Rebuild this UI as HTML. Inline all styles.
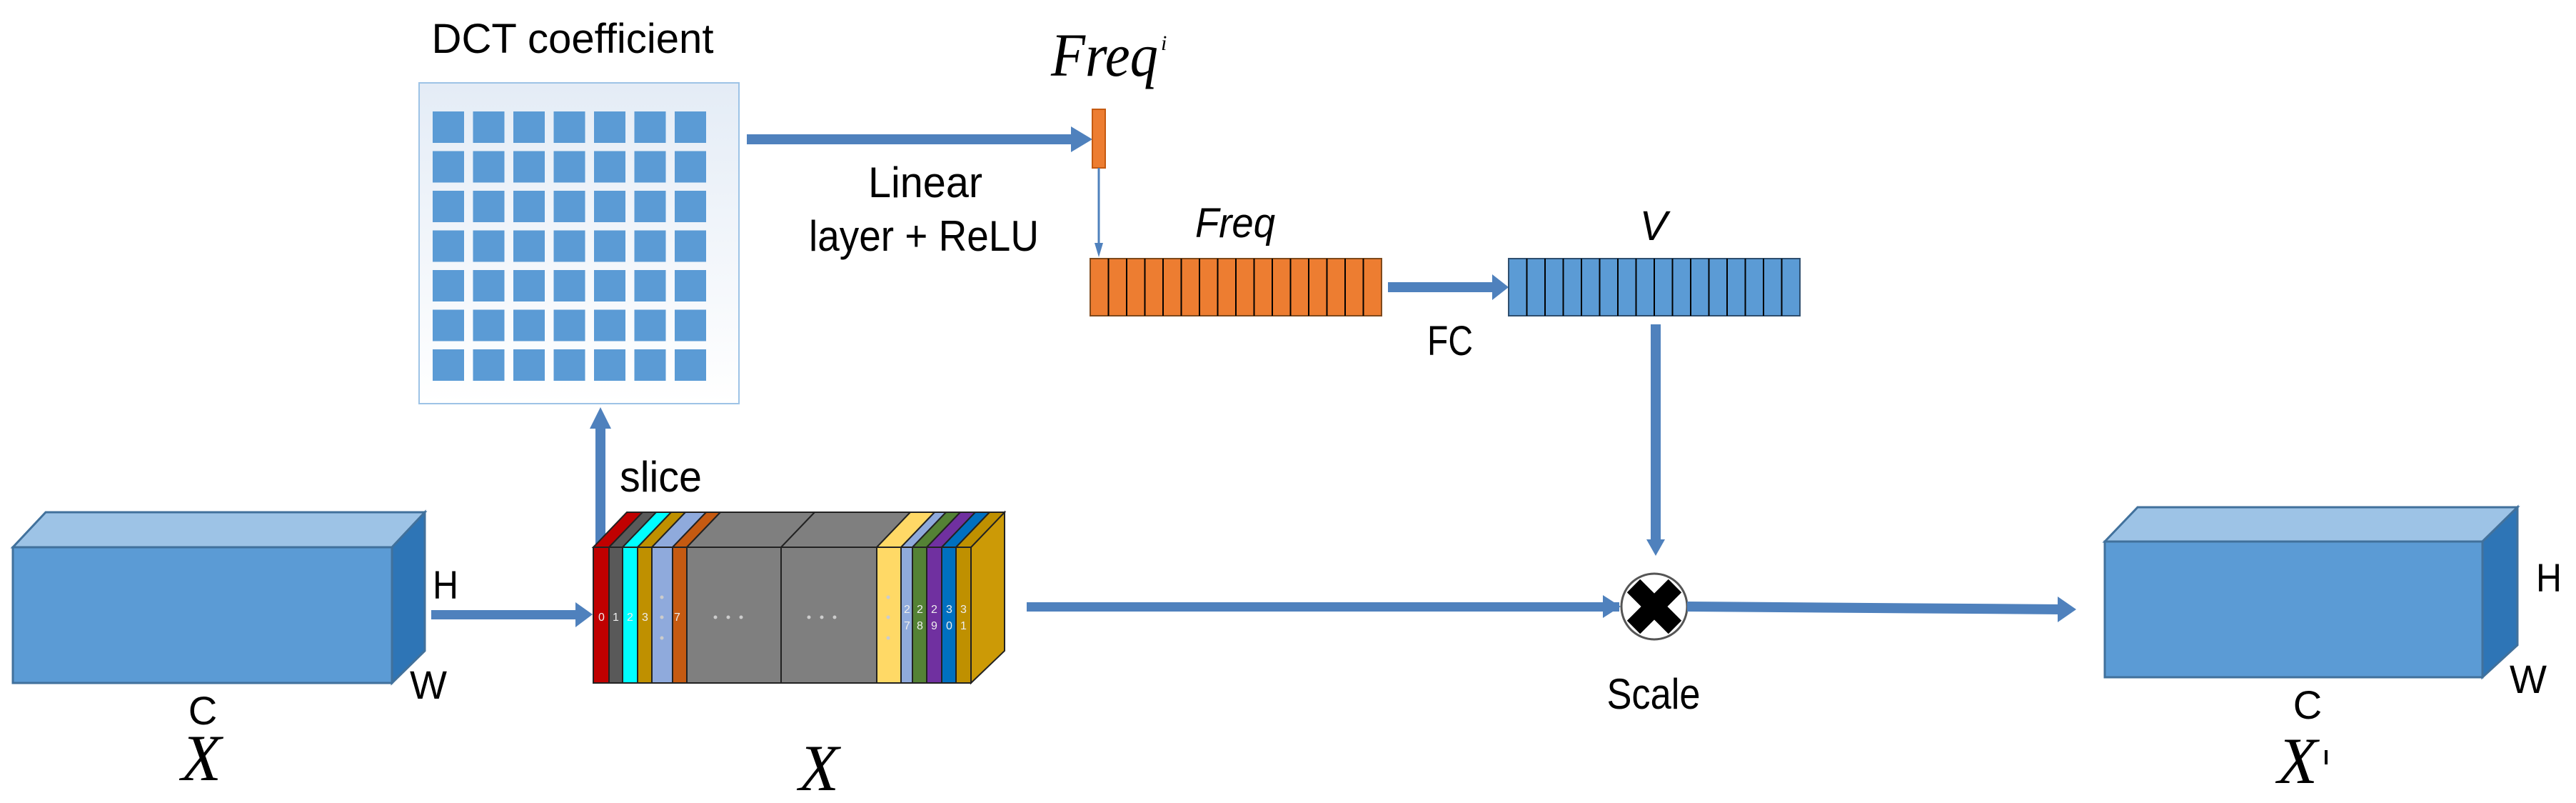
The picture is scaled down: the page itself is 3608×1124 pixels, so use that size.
<!DOCTYPE html>
<html><head><meta charset="utf-8"><style>html,body{margin:0;padding:0;background:#fff}svg{display:block}</style></head>
<body>
<svg width="3608" height="1124" viewBox="0 0 3608 1124" xmlns="http://www.w3.org/2000/svg">
<defs>
<linearGradient id="pg" x1="0" y1="0" x2="0" y2="1"><stop offset="0" stop-color="#e4ecf6"/><stop offset="1" stop-color="#ffffff"/></linearGradient>
</defs>
<g font-family="'Liberation Sans', sans-serif" fill="#000">
<text x="802" y="74" font-size="58" text-anchor="middle" textLength="395" lengthAdjust="spacingAndGlyphs">DCT coefficient</text>
<rect x="587" y="116" width="448" height="449" fill="url(#pg)" stroke="#9dc3e6" stroke-width="2"/>
<g id="grid" fill="#5b9bd5"></g>
<rect x="1046" y="188" width="460" height="14" fill="#4f81bd"/>
<polygon points="1500,177 1530,195 1500,213" fill="#4f81bd"/>
<rect x="1530" y="153" width="18" height="82" fill="#ed7d31" stroke="#c55a11" stroke-width="2"/>
<text x="1472" y="106" font-family="'Liberation Serif', serif" font-style="italic" font-size="86" textLength="150" lengthAdjust="spacingAndGlyphs">Freq</text>
<text x="1626" y="70" font-family="'Liberation Serif', serif" font-style="italic" font-size="30">i</text>
<line x1="1539" y1="235" x2="1539" y2="345" stroke="#4f81bd" stroke-width="3"/>
<polygon points="1533,340 1545,340 1539,360" fill="#4f81bd"/>
<text x="1296" y="276" font-size="60" text-anchor="middle" textLength="160" lengthAdjust="spacingAndGlyphs">Linear</text>
<text x="1294" y="351" font-size="60" text-anchor="middle" textLength="322" lengthAdjust="spacingAndGlyphs">layer + ReLU</text>
<text x="1730" y="332" font-size="58" font-style="italic" text-anchor="middle" textLength="112" lengthAdjust="spacingAndGlyphs">Freq</text>
<rect x="1527" y="362" width="408" height="80" fill="#ed7d31" stroke="#7f4a1c" stroke-width="2"/>
<g stroke="#000" stroke-width="2" id="ob"></g>
<rect x="1944" y="395" width="150" height="14" fill="#4f81bd"/>
<polygon points="2090,384 2113,402 2090,420" fill="#4f81bd"/>
<text x="2031" y="497" font-size="58" text-anchor="middle" textLength="64" lengthAdjust="spacingAndGlyphs">FC</text>
<rect x="2113" y="362" width="408" height="80" fill="#5b9bd5" stroke="#2f4f6f" stroke-width="2"/>
<g stroke="#000" stroke-width="2" id="vb"></g>
<text x="2316" y="336" font-size="58" font-style="italic" text-anchor="middle">V</text>
<rect x="2312" y="454" width="14" height="305" fill="#4f81bd"/>
<polygon points="2306,755 2332,755 2319,778" fill="#4f81bd"/>
<g stroke="#41719c" stroke-width="3">
<polygon points="18,766 64,717 595,717 549,766" fill="#9dc3e6"/>
<polygon points="549,766 595,717 595,911 549,956" fill="#2e75b6"/>
<rect x="18" y="766" width="531" height="190" fill="#5b9bd5"/>
</g>
<text x="606" y="838" font-size="56" textLength="36" lengthAdjust="spacingAndGlyphs">H</text>
<text x="574" y="978" font-size="56" textLength="52" lengthAdjust="spacingAndGlyphs">W</text>
<text x="284" y="1014" font-size="56" text-anchor="middle">C</text>
<text x="282" y="1092" font-family="'Liberation Serif', serif" font-style="italic" font-size="92" text-anchor="middle">X</text>
<rect x="604" y="854" width="205" height="13" fill="#4f81bd"/>
<polygon points="806,843 830,860 806,878" fill="#4f81bd"/>
<rect x="834" y="595" width="14" height="172" fill="#4f81bd"/>
<polygon points="826,600 856,600 841,570" fill="#4f81bd"/>
<text x="868" y="688" font-size="60" textLength="115" lengthAdjust="spacingAndGlyphs">slice</text>
<g id="stack" stroke="#222" stroke-width="2"></g>
<text x="1147" y="1106" font-family="'Liberation Serif', serif" font-style="italic" font-size="92" text-anchor="middle">X</text>
<rect x="1438" y="843" width="830" height="13" fill="#4f81bd"/>
<polygon points="2245,833 2270,849 2245,865" fill="#4f81bd"/>
<circle cx="2317" cy="849" r="46" fill="#fff" stroke="#555" stroke-width="3"/>
<path d="M2288,820 L2346,878 M2346,820 L2288,878" stroke="#000" stroke-width="26"/>
<polygon points="2363,842 2885,846 2885,860 2363,856" fill="#4f81bd"/>
<polygon points="2882,835 2908,853 2882,871" fill="#4f81bd"/>
<text x="2316" y="992" font-size="60" text-anchor="middle" textLength="131" lengthAdjust="spacingAndGlyphs">Scale</text>
<g stroke="#41719c" stroke-width="3">
<polygon points="2948,758 2994,710 3526,710 3477,758" fill="#9dc3e6"/>
<polygon points="3477,758 3526,710 3526,903 3477,948" fill="#2e75b6"/>
<rect x="2948" y="758" width="529" height="190" fill="#5b9bd5"/>
</g>
<text x="3552" y="828" font-size="56" textLength="36" lengthAdjust="spacingAndGlyphs">H</text>
<text x="3515" y="970" font-size="56" textLength="52" lengthAdjust="spacingAndGlyphs">W</text>
<text x="3232" y="1006" font-size="56" text-anchor="middle">C</text>
<text x="3218" y="1096" font-family="'Liberation Serif', serif" font-style="italic" font-size="92" text-anchor="middle">X</text>
<rect x="3256" y="1050" width="4" height="20" fill="#000"/>
</g>
<g id="nums" font-family="'Liberation Sans', sans-serif" font-size="16" fill="#eee"></g>
</svg>
<script>
(function(){
var NS="http://www.w3.org/2000/svg";
function el(p,t,a){var e=document.createElementNS(NS,t);for(var k in a)e.setAttribute(k,a[k]);p.appendChild(e);return e;}
var g=document.getElementById('grid');
for(var r=0;r<7;r++)for(var c=0;c<7;c++)el(g,'rect',{x:606+c*56.5,y:156+r*55.5,width:44,height:44});
var ob=document.getElementById('ob'),vb=document.getElementById('vb');
for(var i=1;i<16;i++){var x=1527+i*25.5;el(ob,'line',{x1:x,y1:362,x2:x,y2:442});x=2113+i*25.5;el(vb,'line',{x1:x,y1:362,x2:x,y2:442});}
var s=document.getElementById('stack');
var b=[831,853,872,893,913,942,962,1094,1228,1262,1278,1298,1319,1339,1360];
var col=['#c00000','#595959','#00ffff','#bf9000','#8faadc','#c55a11','#7f7f7f','#7f7f7f','#ffd966','#8faadc','#548235','#7030a0','#0070c0','#bf9000'];
var dx=47,dy=-49,t=766,bt=956;
el(s,'polygon',{points:(1360)+','+t+' '+(1360+dx)+','+(t+dy)+' '+(1360+dx)+','+(bt-45)+' 1360,'+bt,fill:'#cc9a06'});
for(var i=0;i<14;i++){
 el(s,'polygon',{points:b[i]+','+t+' '+(b[i]+dx)+','+(t+dy)+' '+(b[i+1]+dx)+','+(t+dy)+' '+b[i+1]+','+t,fill:col[i]});
 el(s,'rect',{x:b[i],y:t,width:b[i+1]-b[i],height:bt-t,fill:col[i]});
}
var n=document.getElementById('nums');
var L=[[842,'0'],[862,'1'],[882,'2'],[903,'3'],[948,'7'],[1270,'2'],[1288,'2'],[1308,'2'],[1329,'3'],[1349,'3']];
L.forEach(function(p,i){el(n,'text',{x:p[0]-4,y:i<5?869:858}).textContent=p[1];});
var L2=[[1270,'7'],[1288,'8'],[1308,'9'],[1329,'0'],[1349,'1']];
L2.forEach(function(p){el(n,'text',{x:p[0]-4,y:881}).textContent=p[1];});
[[1002,864],[1020,864],[1038,864],[1133,864],[1151,864],[1169,864],[927,836],[927,864],[927,893],[1244,836],[1244,864],[1244,893]].forEach(function(p){el(n,'circle',{cx:p[0],cy:p[1],r:2.5,fill:'#ccc'});});
})();
</script>
</body></html>
